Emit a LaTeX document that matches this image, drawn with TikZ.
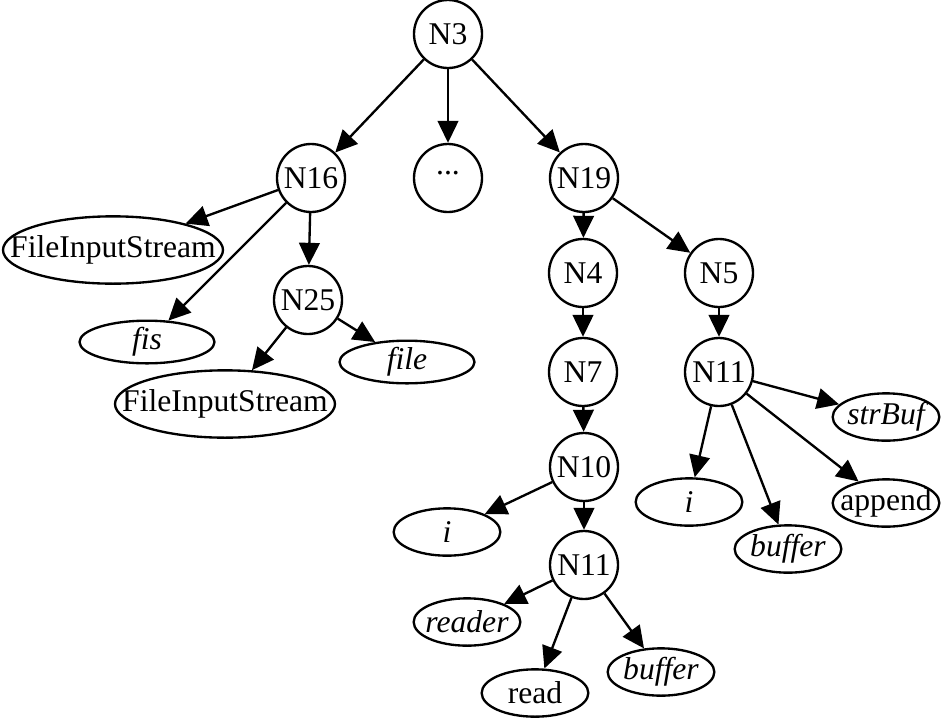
\documentclass[tikz,border=0pt]{standalone}
\usepackage{fontspec}
\setmainfont{Liberation Serif}
\usetikzlibrary{shapes.geometric,arrows.meta}

\newcommand{\lbl}[1]{\makebox[0pt]{#1}}

\begin{document}
\begin{tikzpicture}[x=0.03cm,y=-0.03cm,line width=2pt,
  every node/.style={font=\fontsize{27pt}{32pt}\selectfont},
  vert/.style={circle,draw,inner sep=0pt,minimum size=2.04cm},
  leaf/.style={ellipse,draw,inner sep=0pt,minimum width=3.2cm,minimum height=1.42cm},
  midleaf/.style={leaf,minimum width=4.05cm,minimum height=1.28cm},
  bigleaf/.style={leaf,minimum width=6.6cm,minimum height=2.02cm},
  arr/.style={-{Triangle[length=0.66cm,width=0.62cm]}}]
\useasboundingbox (0,0) rectangle (945,718);
% inner nodes
\node [vert] (n3)  at (448,34)  {N3};
\node [vert] (n16) at (311,178) {N16};
\node [vert] (dd)  at (448,178) {\raisebox{0.3em}{...}};
\node [vert] (n19) at (584,178) {N19};
\node [vert] (n25) at (308,300) {N25};
\node [vert] (n4)  at (583,273) {N4};
\node [vert] (n5)  at (719,273) {N5};
\node [vert] (n7)  at (583,372) {N7};
\node [vert] (n11r) at (719,372) {N11};
\node [vert] (n10) at (584,467) {N10};
\node [vert] (n11b) at (584,565) {N11};
% leaves
\node [bigleaf] (fis1) at (113,250) {\lbl{FileInputStream}};
\node [midleaf] (fis)  at (147,342) {\lbl{\itshape fis}};
\node [midleaf] (file) at (407,362) {\lbl{\itshape file}};
\node [bigleaf] (fis2) at (225,404) {\lbl{FileInputStream}};
\node [leaf] (strbuf) at (886,417) {\lbl{\itshape strBuf}};
\node [leaf] (ir)     at (689,502) {\lbl{\itshape i}};
\node [leaf] (bufr)   at (788,549) {\lbl{\itshape buffer}};
\node [leaf] (append) at (886,503) {\lbl{append}};
\node [leaf] (il)     at (447,532) {\lbl{\itshape i}};
\node [leaf] (reader) at (467,622) {\lbl{\itshape reader}};
\node [leaf] (read)   at (535,693) {\lbl{read}};
\node [leaf] (bufb)   at (661,672) {\lbl{\itshape buffer}};
% edges
\foreach \a/\b in {n3/n16,n3/dd,n3/n19,n16/fis1,n16/fis,n16/n25,n25/fis2,n25/file,
  n19/n4,n19/n5,n4/n7,n7/n10,n10/il,n10/n11b,n11b/reader,n11b/read,n11b/bufb,
  n5/n11r,n11r/strbuf,n11r/ir,n11r/bufr,n11r/append}
  \draw [arr] (\a) -- (\b);
\end{tikzpicture}
\end{document}
